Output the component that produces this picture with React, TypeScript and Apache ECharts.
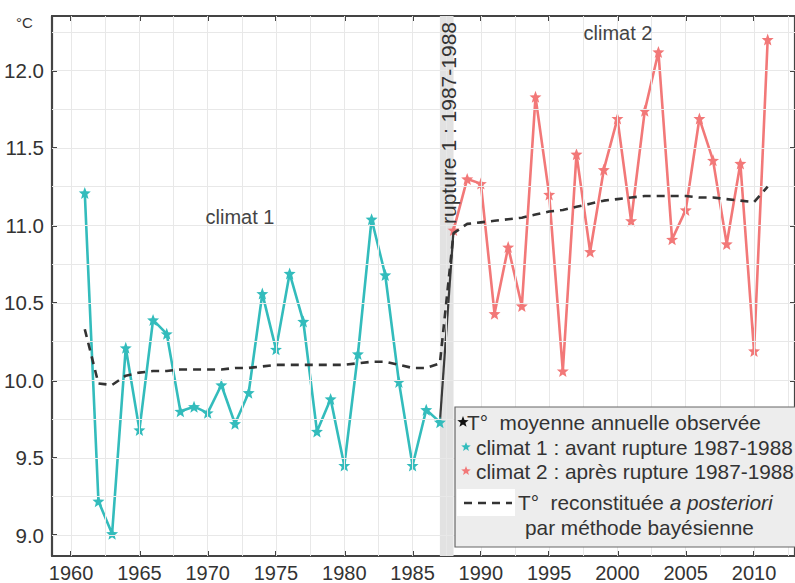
import React, { useEffect, useRef } from "react";
import * as echarts from "echarts";

const years1 = [1961, 1962, 1963, 1964, 1965, 1966, 1967, 1968, 1969, 1970, 1971, 1972, 1973, 1974, 1975, 1976, 1977, 1978, 1979, 1980, 1981, 1982, 1983, 1984, 1985, 1986, 1987];
const climat1 = [11.21, 9.22, 9.01, 10.21, 9.68, 10.39, 10.30, 9.80, 9.83, 9.79, 9.97, 9.72, 9.92, 10.56, 10.20, 10.69, 10.38, 9.67, 9.88, 9.45, 10.17, 11.04, 10.68, 9.99, 9.45, 9.81, 9.73];

const years2 = [1988, 1989, 1990, 1991, 1992, 1993, 1994, 1995, 1996, 1997, 1998, 1999, 2000, 2001, 2002, 2003, 2004, 2005, 2006, 2007, 2008, 2009, 2010, 2011];
const climat2 = [10.97, 11.30, 11.27, 10.43, 10.86, 10.48, 11.83, 11.20, 10.06, 11.46, 10.83, 11.36, 11.69, 11.03, 11.74, 12.12, 10.91, 11.10, 11.69, 11.42, 10.88, 11.40, 10.19, 12.20];

const bayesYears = [...years1, ...years2];
const bayes = [10.33, 9.98, 9.97, 10.03, 10.05, 10.06, 10.06, 10.07, 10.07, 10.07, 10.07, 10.08, 10.08, 10.09, 10.10, 10.10, 10.10, 10.10, 10.10, 10.10, 10.11, 10.12, 10.12, 10.10, 10.08, 10.08, 10.11,
  10.95, 11.01, 11.02, 11.03, 11.04, 11.05, 11.07, 11.09, 11.10, 11.12, 11.14, 11.16, 11.17, 11.18, 11.19, 11.19, 11.19, 11.19, 11.18, 11.18, 11.17, 11.16, 11.15, 11.25];

const xTicks = [1960, 1965, 1970, 1975, 1980, 1985, 1990, 1995, 2000, 2005, 2010];
const yTicks = [9.0, 9.5, 10.0, 10.5, 11.0, 11.5, 12.0];
const xGrid = [1960, 1962.5, 1965, 1967.5, 1970, 1972.5, 1975, 1977.5, 1980, 1982.5, 1985, 1987.5, 1990, 1992.5, 1995, 1997.5, 2000, 2002.5, 2005, 2007.5, 2010, 2012.5];
const yGrid = [9.0, 9.25, 9.5, 9.75, 10.0, 10.25, 10.5, 10.75, 11.0, 11.25, 11.5, 11.75, 12.0, 12.25];
const rupture = [1987, 1988];

const TEAL = "#33bcbc";
const RED = "#f27878";
const DARK = "#333333";
const FONT = "'Liberation Sans', Arial, Helvetica, sans-serif";
const STAR = "path://M12,1 L14.9,8.6 L23,9 L16.7,14.1 L18.8,22 L12,17.6 L5.2,22 L7.3,14.1 L1,9 L9.1,8.6 Z";

function starPoints(cx: number, cy: number, r: number) {
  const pts: number[][] = [];
  for (let i = 0; i < 10; i++) {
    const a = -Math.PI / 2 + (i * Math.PI) / 5;
    const rr = i % 2 === 0 ? r : r * 0.42;
    pts.push([cx + rr * Math.cos(a), cy + rr * Math.sin(a)]);
  }
  return pts;
}

export default function App() {
  const ref = useRef<HTMLDivElement>(null);
  useEffect(() => {
    const chart = echarts.init(ref.current!, null, { renderer: "svg" });
    const axisLine = { show: true, lineStyle: { color: "#444", width: 2.2 } };
    const tickStyle = { color: "#444", width: 2 };
    const legendText = { fontFamily: FONT, fontSize: 20.8, fill: DARK };
    chart.setOption({
      animation: false,
      backgroundColor: "#ffffff",
      grid: { left: 52, right: 0, top: 16, bottom: 25, containLabel: false },
      xAxis: [
        {
          type: "value", min: 1958.6, max: 2013, position: "bottom",
          axisLine,
          axisTick: { show: true, inside: true, length: 5, customValues: xTicks, lineStyle: tickStyle },
          axisLabel: { customValues: xTicks, fontSize: 20, color: DARK, fontFamily: FONT, margin: 7, formatter: (v: number) => String(v) },
          splitLine: { show: false },
        },
        {
          type: "value", min: 1958.6, max: 2013, position: "top",
          axisLine,
          axisTick: { show: true, inside: true, length: 5, customValues: xTicks, lineStyle: tickStyle },
          axisLabel: { show: false },
          splitLine: { show: false },
        },
      ],
      yAxis: [
        {
          type: "value", min: 8.866, max: 12.352, position: "left",
          axisLine,
          axisTick: { show: true, inside: true, length: 5, customValues: yTicks, lineStyle: tickStyle },
          axisLabel: { customValues: yTicks, fontSize: 20.5, color: DARK, fontFamily: FONT, margin: 8, formatter: (v: number) => v.toFixed(1) },
          splitLine: { show: false },
        },
        {
          type: "value", min: 8.866, max: 12.352, position: "right",
          axisLine,
          axisTick: { show: true, inside: true, length: 5, customValues: yTicks, lineStyle: tickStyle },
          axisLabel: { show: false },
          splitLine: { show: false },
        },
      ],
      series: [
        {
          type: "line", data: [], z: 0, silent: true,
          markLine: {
            silent: true, symbol: ["none", "none"], label: { show: false },
            lineStyle: { color: "#e8e8e8", width: 1, type: "solid" },
            data: [...xGrid.map((v) => ({ xAxis: v })), ...yGrid.map((v) => ({ yAxis: v }))],
          },
        },
        {
          type: "line", data: [], z: 1, silent: true,
          markArea: { silent: true, itemStyle: { color: "#e2e2e2" }, data: [[{ xAxis: rupture[0] }, { xAxis: rupture[1] }]] },
        },
        {
          type: "line", z: 3, symbol: "none",
          data: [[rupture[0], climat1[climat1.length - 1]], [rupture[1], climat2[0]]],
          lineStyle: { color: "#3a3a3a", width: 2.2 },
        },
        {
          type: "line", z: 4, name: "climat 1",
          data: years1.map((y, i) => [y, climat1[i]]),
          lineStyle: { color: TEAL, width: 2.6 },
          itemStyle: { color: TEAL },
          symbol: STAR, symbolSize: 12,
        },
        {
          type: "line", z: 4, name: "climat 2",
          data: years2.map((y, i) => [y, climat2[i]]),
          lineStyle: { color: RED, width: 2.6 },
          itemStyle: { color: RED },
          symbol: STAR, symbolSize: 12,
        },
        {
          type: "line", z: 5, name: "bayes", symbol: "none",
          data: bayesYears.map((y, i) => [y, bayes[i]]),
          lineStyle: { color: DARK, width: 2.6, type: [8, 6] },
        },
      ],
      graphic: [
        { type: "text", left: 16, top: 15, z: 100, style: { text: "°C", fontFamily: FONT, fontSize: 15, fill: DARK } },
        { type: "text", x: 240, y: 217, z: 100, style: { text: "climat 1", fontFamily: FONT, fontSize: 20, fill: "#444", align: "center", verticalAlign: "middle" } },
        { type: "text", x: 618, y: 33, z: 100, style: { text: "climat 2", fontFamily: FONT, fontSize: 20, fill: "#444", align: "center", verticalAlign: "middle" } },
        { type: "text", x: 448, y: 123, rotation: Math.PI / 2, z: 100, style: { text: "rupture 1 : 1987-1988", fontFamily: FONT, fontSize: 21, fill: DARK, align: "center", verticalAlign: "middle" } },
        {
          type: "group", z: 100, children: [
            { type: "rect", z: 100, shape: { x: 455, y: 407, width: 350, height: 140 }, style: { fill: "#ededed", stroke: "#666", lineWidth: 1.2 } },
            { type: "rect", z: 101, shape: { x: 457, y: 489, width: 58, height: 27 }, style: { fill: "#ffffff" } },
            { type: "polygon", z: 102, shape: { points: starPoints(463, 422, 6) }, style: { fill: "#111" } },
            { type: "text", z: 102, x: 467, y: 422, style: { ...legendText, text: "T°  moyenne annuelle observée", verticalAlign: "middle" } },
            { type: "polygon", z: 102, shape: { points: starPoints(466, 447, 5) }, style: { fill: TEAL } },
            { type: "text", z: 102, x: 476, y: 447, style: { ...legendText, text: "climat 1 : avant rupture 1987-1988", verticalAlign: "middle" } },
            { type: "polygon", z: 102, shape: { points: starPoints(466, 471, 5) }, style: { fill: RED } },
            { type: "text", z: 102, x: 476, y: 471, style: { ...legendText, text: "climat 2 : après rupture 1987-1988", verticalAlign: "middle" } },
            { type: "line", z: 102, shape: { x1: 464, y1: 503, x2: 512, y2: 503 }, style: { stroke: DARK, lineWidth: 2.6, lineDash: [8, 6] } },
            { type: "text", z: 102, x: 518, y: 502, style: { ...legendText, text: "T°  reconstituée {i|a posteriori}", verticalAlign: "middle", rich: { i: { fontStyle: "italic", fontFamily: FONT, fontSize: 20.8, fill: DARK } } } },
            { type: "text", z: 102, x: 525, y: 527, style: { ...legendText, text: "par méthode bayésienne", verticalAlign: "middle" } },
          ],
        },
      ],
    });
    return () => chart.dispose();
  }, []);
  return <div ref={ref} style={{ position: "fixed", left: 0, top: 0, width: 795, height: 583 }} />;
}
